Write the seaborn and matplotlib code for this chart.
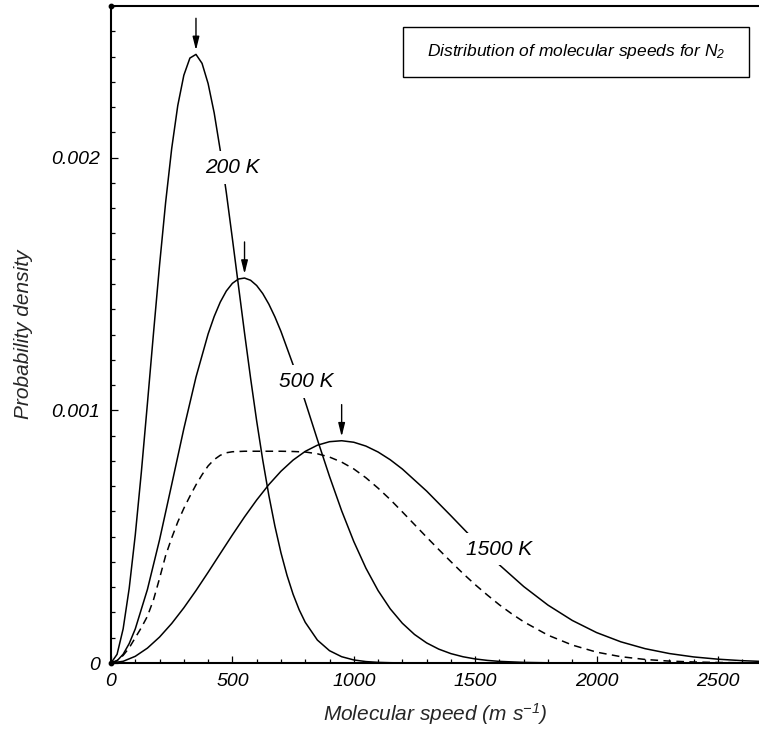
import numpy as np
import pandas as pd
import matplotlib
matplotlib.use("Agg")
import matplotlib.pyplot as plt
from matplotlib.patches import Rectangle
from matplotlib.ticker import MultipleLocator
import seaborn as sns

# ---------------- data (densities in units of 1e-3 per m/s) ----------------
speeds_200 = [0, 25, 50, 75, 100, 125, 150, 175, 200, 225, 250, 275, 300, 325,
              350, 375, 400, 425, 450, 475, 500, 525, 550, 575, 600, 625, 650,
              675, 700, 725, 750, 775, 800, 850, 900, 950, 1000, 1050, 1100,
              1150, 1200, 1300, 1500, 2000, 2700]
dens_200 = [0, 0.0343, 0.1350, 0.2958, 0.5069, 0.7554, 1.027, 1.3049, 1.575,
            1.8227, 2.036, 2.206, 2.326, 2.394, 2.4085, 2.373, 2.293, 2.177,
            2.029, 1.8613, 1.679, 1.4925, 1.306, 1.1267, 0.9577, 0.8032, 0.6641,
            0.5420, 0.4362, 0.3468, 0.2720, 0.2107, 0.1611, 0.0908, 0.0487,
            0.0249, 0.0121, 0.0056, 0.0025, 0.0011, 0.0004, 0.0001, 0.0, 0.0,
            0.0]

speeds_500 = [0, 25, 50, 75, 100, 150, 200, 250, 300, 350, 400, 425, 450, 475,
              500, 525, 550, 575, 600, 625, 650, 675, 700, 750, 800, 850, 900,
              950, 1000, 1050, 1100, 1150, 1200, 1250, 1300, 1350, 1400, 1450,
              1500, 1550, 1600, 1700, 1800, 2000, 2700]
dens_500 = [0, 0.0087, 0.0346, 0.0770, 0.1349, 0.2910, 0.4876, 0.7063, 0.9272,
            1.1311, 1.3021, 1.3713, 1.4282, 1.4721, 1.5025, 1.5196, 1.5234,
            1.5146, 1.4938, 1.4620, 1.4203, 1.3700, 1.3123, 1.1801, 1.0342,
            0.8843, 0.7384, 0.6024, 0.4807, 0.3752, 0.2867, 0.2145, 0.1573,
            0.1130, 0.0795, 0.0549, 0.0371, 0.0247, 0.0161, 0.0103, 0.0064,
            0.0024, 0.0008, 0.0001, 0.0]

speeds_1500 = [0, 50, 100, 150, 200, 250, 300, 350, 400, 450, 500, 550, 600, 650,
               700, 750, 800, 850, 900, 950, 1000, 1050, 1100, 1150, 1200, 1300,
               1400, 1500, 1600, 1700, 1800, 1900, 2000, 2100, 2200, 2300, 2400,
               2500, 2600, 2700]
dens_1500 = [0, 0.0067, 0.0265, 0.0589, 0.1027, 0.1564, 0.2184, 0.2866, 0.3589,
             0.4331, 0.5069, 0.5782, 0.6451, 0.7058, 0.7588, 0.8030, 0.8375,
             0.8619, 0.8758, 0.8796, 0.8736, 0.8584, 0.8350, 0.8044, 0.7676,
             0.6804, 0.5828, 0.4831, 0.3881, 0.3025, 0.2290, 0.1684, 0.1204,
             0.0838, 0.0567, 0.0374, 0.0240, 0.0151, 0.0092, 0.0055]

speeds_dashed = [0, 25, 50, 75, 100, 125, 150, 175, 200, 225, 250, 275, 300,
                 325, 350, 375, 400, 425, 450, 475, 500, 550, 600, 650, 700, 750,
                 800, 850, 900, 950, 1000, 1050, 1100, 1150, 1200, 1250, 1300,
                 1350, 1400, 1450, 1500, 1550, 1600, 1650, 1700, 1800, 1900, 2000,
                 2100, 2200, 2300, 2400, 2500, 2600, 2700]
dens_dashed = [0, 0.010, 0.030, 0.060, 0.100, 0.140, 0.185, 0.250, 0.335, 0.425,
               0.495, 0.558, 0.612, 0.660, 0.705, 0.745, 0.780, 0.805, 0.822,
               0.832, 0.836, 0.838, 0.838, 0.838, 0.838, 0.837, 0.835, 0.828,
               0.815, 0.795, 0.768, 0.733, 0.692, 0.647, 0.598, 0.548, 0.498,
               0.449, 0.401, 0.354, 0.310, 0.269, 0.230, 0.195, 0.163, 0.110,
               0.071, 0.043, 0.025, 0.014, 0.0075, 0.004, 0.002, 0.001, 0.0005]

curve_labels = ["200 K", "500 K", "1500 K"]
x_ticks = [0, 500, 1000, 1500, 2000, 2500]
y_ticks = [0, 0.001, 0.002]
y_tick_labels = ["0", "0.001", "0.002"]
title_text = "Distribution of molecular speeds for N$_2$"
x_label = "Molecular speed (m s$^{-1}$)"
y_label = "Probability density"

# ---------------- style ----------------
sns.set_theme(style="ticks")
plt.rcParams.update({
    "font.family": ["Liberation Sans", "DejaVu Sans"],
    "font.style": "italic",
    "mathtext.default": "regular",
    "axes.edgecolor": "black",
    "text.color": "black",
    "xtick.color": "black",
    "ytick.color": "black",
})

fig = plt.figure(figsize=(7.59, 7.29), dpi=100)
ax = fig.add_axes([111 / 759, 1 - 663 / 729, 648 / 759, 657 / 729])

frames = []
for name, sp, de in [("200 K", speeds_200, dens_200),
                     ("500 K", speeds_500, dens_500),
                     ("1500 K", speeds_1500, dens_1500)]:
    frames.append(pd.DataFrame({"speed": sp,
                                "density": np.array(de) * 1e-3,
                                "T": name}))
df = pd.concat(frames, ignore_index=True)

for name in curve_labels:
    sub = df[df["T"] == name]
    sns.lineplot(data=sub, x="speed", y="density", ax=ax, color="black",
                 lw=1.1, estimator=None, sort=False, legend=False)

df_d = pd.DataFrame({"speed": speeds_dashed,
                     "density": np.array(dens_dashed) * 1e-3})
sns.lineplot(data=df_d, x="speed", y="density", ax=ax, color="black", lw=1.1,
             estimator=None, sort=False, legend=False,
             linestyle=(0, (5, 3.5)))

# peak arrows
for name in curve_labels:
    sub = df[df["T"] == name]
    i = sub["density"].idxmax()
    ax.annotate("", xy=(sub.loc[i, "speed"], sub.loc[i, "density"]),
                xytext=(0, 26), textcoords="offset points",
                arrowprops=dict(arrowstyle="-|>,head_length=0.8,head_width=0.2",
                                color="black", lw=1.0, shrinkA=0, shrinkB=3,
                                mutation_scale=10))

# curve labels (white background breaks the curve)
label_pos = [(498, 1.96e-3), (803, 1.113e-3), (1598, 0.451e-3)]
for txt, (lx, ly) in zip(curve_labels, label_pos):
    ax.text(lx, ly, txt, ha="center", va="center", fontsize=15, zorder=5,
            bbox=dict(fc="white", ec="none", pad=5))

# title box
ax.add_patch(Rectangle((0.4506, 0.8919), 0.534, 0.0761, transform=ax.transAxes,
                       fill=False, ec="black", lw=1.0, zorder=6))
ax.text(0.7176, 0.930, title_text, transform=ax.transAxes, ha="center",
        va="center", fontsize=12.5, zorder=6)

ax.set_xlim(0, 2669)
ax.set_ylim(0, 0.0026)
ax.set_xticks(x_ticks)
ax.set_xticklabels([str(t) for t in x_ticks])
ax.set_yticks(y_ticks)
ax.set_yticklabels(y_tick_labels)
ax.xaxis.set_minor_locator(MultipleLocator(100))
ax.yaxis.set_minor_locator(MultipleLocator(0.0001))
ax.tick_params(which="major", direction="in", length=5, width=0.9,
               labelsize=14, top=False, right=False)
ax.tick_params(axis="x", which="major", pad=7)
ax.tick_params(axis="y", which="major", pad=8)
ax.tick_params(which="minor", direction="in", length=3, width=0.9,
               top=False, right=False)

ax.set_xlabel(x_label, fontsize=15, labelpad=8)
ax.set_ylabel(y_label, fontsize=15, labelpad=13)

for s in ["left", "bottom", "top"]:
    ax.spines[s].set_linewidth(1.5)
ax.spines["right"].set_visible(False)

ax.scatter([0, 0], [0, 1], s=10, color="black", transform=ax.transAxes,
           clip_on=False, zorder=7)

fig.savefig("out.png", dpi=100)
